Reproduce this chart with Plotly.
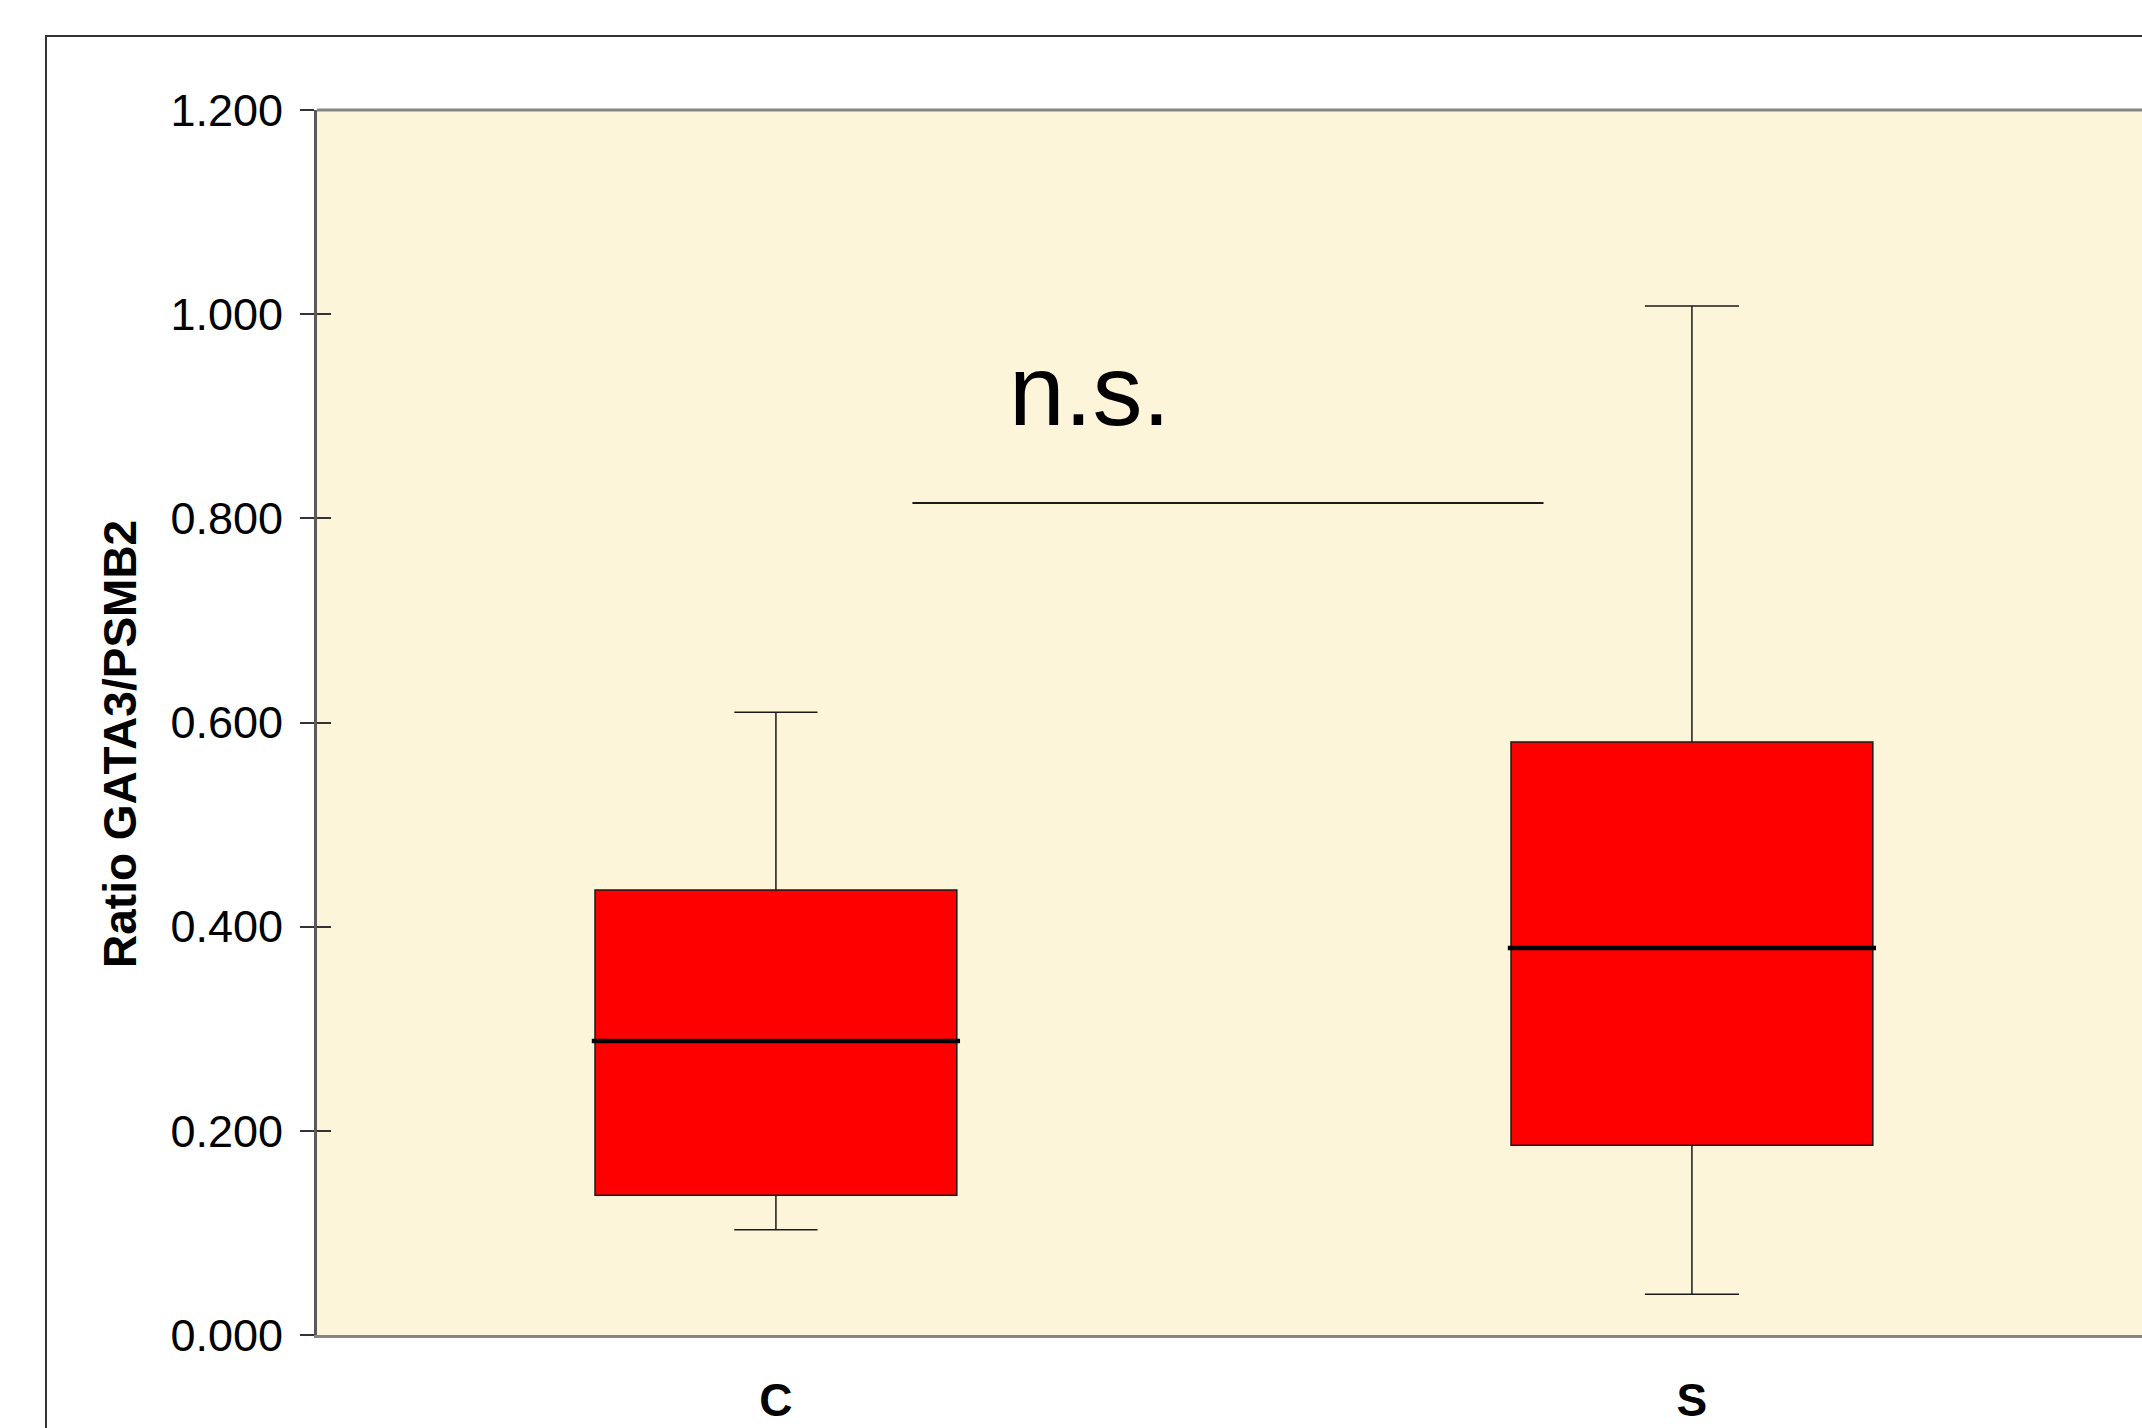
import plotly.graph_objects as go

# ---------------- data ----------------
categories = ["C", "S"]
cat_pos = [0, 1]
q1_vals = [0.137, 0.186]
median_vals = [0.288, 0.379]
q3_vals = [0.436, 0.581]
lower_whisker = [0.103, 0.040]
upper_whisker = [0.610, 1.008]
whisker_caps = [0.23, 0.26]

y_ticks = [0.0, 0.2, 0.4, 0.6, 0.8, 1.0, 1.2]
y_title = "Ratio GATA3/PSMB2"

sig_label = "n.s."
sig_line_y = 0.815
sig_line_x = [0.149, 0.838]
sig_label_xy = [0.342, 0.926]

# ---------------- style ----------------
FONT = "Arial, Liberation Sans, sans-serif"
BOX_W = 0.395
MED_HALF = 0.201
W, H = 2142, 1428
ML, MR, MT, MB = 317, 0, 110, 93
FRAME_X, FRAME_Y = 46, 36
PX_PER_CAT = 916
TITLE_X, TITLE_Y = 120, 0.579   # y-title centre: figure px / data value

fig = go.Figure()

for i, cat in enumerate(categories):
    fig.add_trace(go.Box(
        x=[cat_pos[i]],
        q1=[q1_vals[i]], median=[median_vals[i]], q3=[q3_vals[i]],
        lowerfence=[lower_whisker[i]], upperfence=[upper_whisker[i]],
        width=BOX_W, whiskerwidth=whisker_caps[i],
        fillcolor="#FF0000",
        line=dict(color="#1a1a1a", width=1.5),
        boxpoints=False, showlegend=False, hoverinfo="skip",
        name=cat,
    ))

# thick median lines (drawn over the boxes)
for i, cat in enumerate(categories):
    fig.add_trace(go.Scatter(
        x=[cat_pos[i] - MED_HALF, cat_pos[i] + MED_HALF],
        y=[median_vals[i], median_vals[i]],
        mode="lines", line=dict(color="#000000", width=4.5),
        showlegend=False, hoverinfo="skip", yaxis="y2",
    ))

plot_w = W - ML - MR
x_range = [-0.501, -0.501 + plot_w / PX_PER_CAT]
y_range = [y_ticks[0], y_ticks[-1]]

fig.update_layout(
    width=W, height=H, autosize=False,
    margin=dict(l=ML, r=MR, t=MT, b=MB, pad=0),
    paper_bgcolor="white",
    plot_bgcolor="#FDF5DA",
    font=dict(family=FONT, color="black"),
    xaxis=dict(
        range=x_range, tickvals=cat_pos, ticktext=categories,
        showline=True, linecolor="#858585", linewidth=3,
        ticks="", showgrid=False, zeroline=False, automargin=False,
        tickfont=dict(family=FONT, size=46, weight="bold", color="black"),
        ticklabelstandoff=23,
    ),
    yaxis=dict(
        range=y_range, tickvals=y_ticks, tickformat=".3f",
        showline=True, linecolor="#5a5a5a", linewidth=3,
        ticks="outside", ticklen=14, tickwidth=1.5, tickcolor="#333333",
        showgrid=False, zeroline=False, automargin=False,
        tickfont=dict(family=FONT, size=45, color="black"),
        ticklabelstandoff=8,
    ),
    yaxis2=dict(
        range=y_range, tickvals=y_ticks, overlaying="y", anchor="x", side="left",
        ticks="inside", ticklen=14, tickwidth=1.5, tickcolor="#333333",
        showticklabels=False, showline=False, showgrid=False, zeroline=False,
        automargin=False,
    ),
    shapes=[
        # top border of plot area
        dict(type="line", xref="paper", yref="paper", x0=0, x1=1, y0=1, y1=1,
             line=dict(color="#858585", width=3)),
        # outer chart frame (extends beyond the canvas at right/bottom)
        dict(type="rect", xref="paper", yref="paper",
             x0=(FRAME_X - ML) / plot_w, x1=1.2,
             y0=-0.3, y1=(H - MB - FRAME_Y) / (H - MT - MB),
             line=dict(color="#333333", width=2), fillcolor="rgba(0,0,0,0)",
             layer="below"),
        # significance bracket
        dict(type="line", xref="x", yref="y",
             x0=sig_line_x[0], x1=sig_line_x[1], y0=sig_line_y, y1=sig_line_y,
             line=dict(color="#1a1a1a", width=2)),
    ],
    annotations=[
        dict(text=sig_label, x=sig_label_xy[0], y=sig_label_xy[1], xref="x", yref="y",
             showarrow=False, xanchor="center", yanchor="middle",
             font=dict(family=FONT, size=100, color="black")),
        dict(text=y_title, x=(TITLE_X - ML) / plot_w, y=TITLE_Y, xref="paper", yref="y",
             showarrow=False, xanchor="center", yanchor="middle", textangle=-90,
             font=dict(family=FONT, size=46, weight="bold", color="black")),
    ],
)

fig.write_html(
    "out.html",
    config={"displayModeBar": False},
    post_script="document.body.style.margin='0';document.body.style.overflow='hidden';",
)
